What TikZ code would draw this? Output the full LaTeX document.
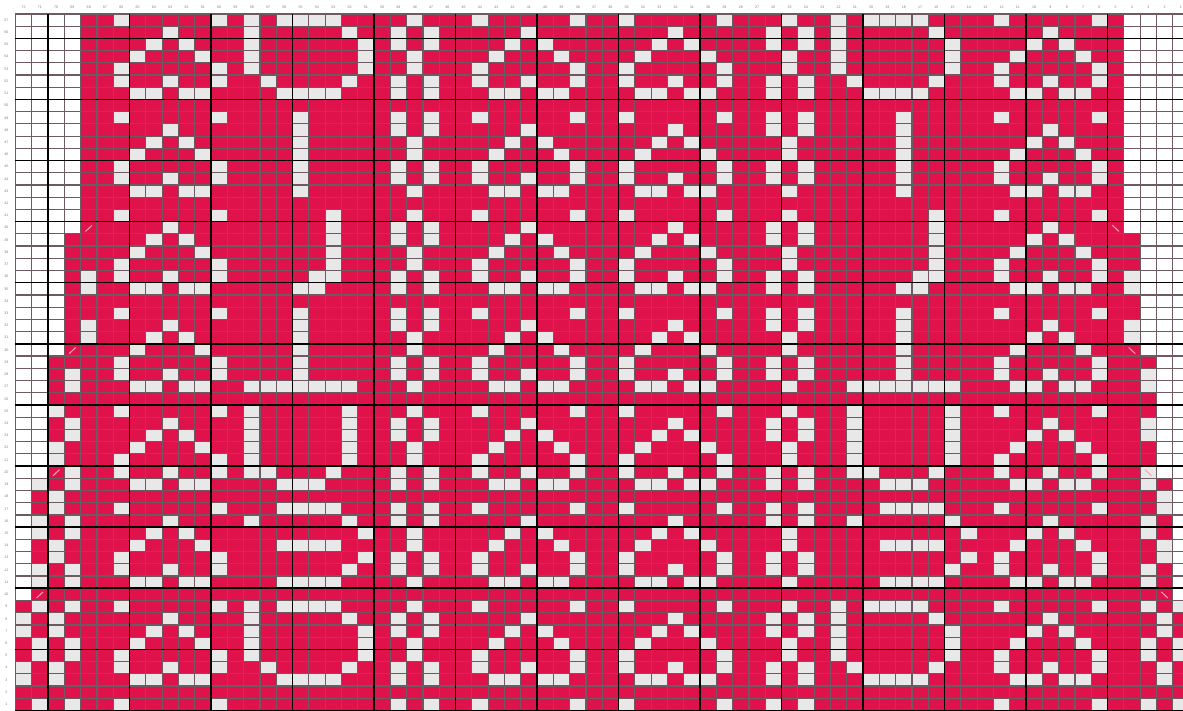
\documentclass[tikz,border=0pt]{standalone}
\usepackage{fontspec}
\setmainfont{Liberation Sans}
\definecolor{redc}{HTML}{E0124C}
\definecolor{stc}{HTML}{E8E8E8}
\definecolor{gl}{HTML}{6E5A62}
\definecolor{markc}{HTML}{F4A6B8}
\tikzset{
  stitch/.style={fill=stc},
  gridl/.style={draw=gl, line width=1.2pt},
  thickl/.style={draw=black, line width=1.5pt},
  lbl/.style={font=\fontsize{3.6}{4}\selectfont, text=gray, inner sep=0pt},
  markl/.style={draw=markc, line width=1pt}
}
\newcommand\stc[2]{\fill[stitch] (#1,#2) rectangle ++(1,1);}
\begin{document}
\begin{tikzpicture}[x=16.3pt,y=-12.22pt]
\useasboundingbox (-0.9448,-1.1375) rectangle (71.632,56.964);
\fill[white] (-0.9448,-1.1375) rectangle (71.632,56.964);
% red knitted region
\fill[redc] (4,0) -- (68,0) -- (68,18) -- (69,18) -- (69,28) -- (70,28) -- (70,38) -- (71,38) -- (71,48) -- (72,48) -- (72,57) -- (0,57) -- (0,48) -- (1,48) -- (1,38) -- (2,38) -- (2,28) -- (3,28) -- (3,18) -- (4,18) -- cycle;
% hearts
\foreach \h in {6,28,37,60}{
  \foreach \b in {0,8,16,24,32,40,48}{
    \foreach \dx/\dr in {0/0,6/0,3/1,2/2,4/2,1/3,5/3,0/4,6/4,0/5,3/5,6/5,1/6,2/6,4/6,5/6}{
      \fill[stitch] (\h+\dx,\b+\dr) rectangle ++(1,1);
    }
  }
  \stc{\h}{56}\stc{\h+6}{56}
}
% dotted columns
\foreach \c in {24,47}{
  \foreach \b in {0,16,32,48}{
    \foreach \dx/\dr in {0/0,-1/1,1/1,-1/2,1/2,0/3,0/4,-1/5,1/5,-1/6,1/6}{
      \fill[stitch] (\c+\dx,\b+\dr) rectangle ++(1,1);
    }
  }
  \foreach \b in {8,24,40}{
    \foreach \dx/\dr in {-1/0,1/0,-1/1,1/1,0/2,0/3,-1/4,1/4,-1/5,1/5,0/6}{
      \fill[stitch] (\c+\dx,\b+\dr) rectangle ++(1,1);
    }
  }
  \stc{\c-1}{56}\stc{\c+1}{56}
}
% letters, left column
\foreach \x/\y in {14/0,16/0,17/0,18/0,19/0,14/1,20/1,14/2,21/2,14/3,21/3,14/4,21/4,15/5,20/5,16/6,17/6,18/6,19/6,
  17/8,17/9,17/10,17/11,17/12,17/13,17/14,
  19/16,19/17,19/18,19/19,19/20,19/21,18/21,17/22,18/22,
  17/24,17/25,17/26,17/27,17/28,17/29,14/30,15/30,16/30,17/30,18/30,19/30,20/30,
  14/32,14/33,14/34,14/35,14/36,14/37,20/32,20/33,20/34,20/35,20/36,15/37,19/37,16/38,17/38,18/38,
  16/40,17/40,18/40,19/40,20/41,14/41,21/42,16/43,17/43,18/43,19/43,21/44,20/45,16/46,17/46,18/46,19/46,
  14/48,16/48,17/48,18/48,19/48,14/49,20/49,14/50,21/50,14/51,21/51,14/52,21/52,15/53,20/53,16/54,17/54,18/54,19/54}{
  \stc{\x}{\y}
}
% letters, right column
\foreach \x/\y in {50/0,52/0,53/0,54/0,55/0,50/1,56/1,50/2,57/2,50/3,57/3,50/4,57/4,51/5,56/5,52/6,53/6,54/6,55/6,
  54/8,54/9,54/10,54/11,54/12,54/13,54/14,
  56/16,56/17,56/18,56/19,56/20,56/21,55/21,54/22,55/22,
  54/24,54/25,54/26,54/27,54/28,54/29,51/30,52/30,53/30,54/30,55/30,56/30,57/30,
  51/32,51/33,51/34,51/35,51/36,51/37,57/32,57/33,57/34,57/35,57/36,52/37,56/37,53/38,54/38,55/38,
  53/40,54/40,55/40,56/40,57/41,51/41,58/42,53/43,54/43,55/43,56/43,58/44,57/45,53/46,54/46,55/46,56/46,
  50/48,52/48,53/48,54/48,55/48,50/49,56/49,50/50,57/50,50/51,57/51,50/52,57/52,51/53,56/53,52/54,53/54,54/54,55/54}{
  \stc{\x}{\y}
}
% left edge partial motif
\foreach \x/\y in {4/21,4/22,4/25,4/26,3/29,3/30,2/32,3/33,3/34,2/35,2/36,3/37,
  1/38,3/38,2/39,2/40,1/41,3/41,1/42,3/42,2/43,2/44,1/45,3/45,1/46,3/46,
  1/48,3/48,0/49,2/49,0/50,2/50,1/51,3/51,1/52,3/52,0/53,2/53,0/54,2/54,1/56,3/56}{
  \stc{\x}{\y}
}
% right edge partial motif
\foreach \x/\y in {68/21,68/22,68/25,68/26,69/29,69/30,69/33,69/34,69/37,
  69/38,70/39,70/40,69/41,69/42,70/43,70/44,69/45,69/46,
  71/48,69/48,70/49,70/50,71/51,69/51,71/52,69/52,70/53,70/54,71/56,69/56}{
  \stc{\x}{\y}
}
% grid
\foreach \c in {0,...,72}{\draw[gridl] (\c,0) -- (\c,57);}
\foreach \r in {0,...,57}{\draw[gridl] (0,\r) -- (72,\r);}
\foreach \c in {2,7,...,72}{\draw[thickl] (\c,0) -- (\c,57);}
\foreach \r in {2,7,...,57}{\draw[thickl] (0,\r) -- (72,\r);}
% shaping marks
\foreach \c/\r in {4/17,3/27,2/37,1/47}{\draw[markl] (\c+0.3,\r+0.8) -- (\c+0.7,\r+0.3);}
\foreach \c/\r in {67/17,68/27,69/37,70/47}{\draw[markl] (\c+0.3,\r+0.3) -- (\c+0.7,\r+0.8);}
% labels
\foreach \c in {0,...,71}{\pgfmathtruncatemacro\n{72-\c}\node[lbl] at (\c+0.5,-0.55) {\n};}
\foreach \r in {0,...,56}{\pgfmathtruncatemacro\n{57-\r}\node[lbl] at (-0.55,\r+0.5) {\n};}
\end{tikzpicture}
\end{document}
